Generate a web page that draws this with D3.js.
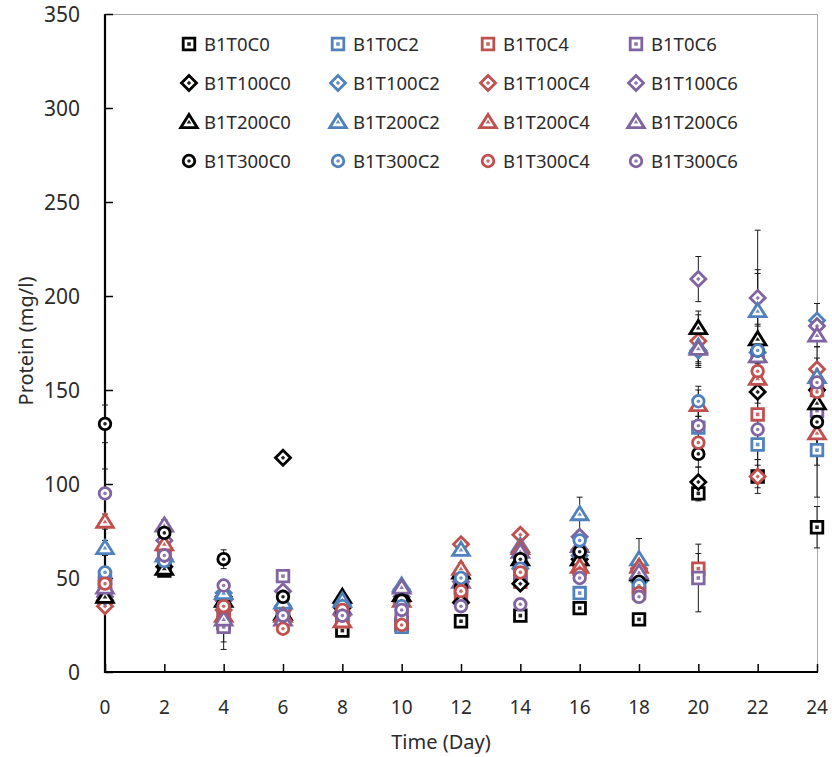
<!DOCTYPE html>
<html>
<head>
<meta charset="utf-8">
<script src="https://cdn.jsdelivr.net/npm/d3@7"></script>
<style>
body { margin: 0; background: #fff; }
text { font-family: "Noto Sans", "DejaVu Sans", sans-serif; fill: #2b2b2b; }
</style>
</head>
<body>
<svg id="chart" width="832" height="757"></svg>
<script>
// sampling days
var days = [0, 2, 4, 6, 8, 10, 12, 14, 16, 18, 20, 22, 24];
var yTicks = [0, 50, 100, 150, 200, 250, 300, 350];

// protein (mg/l), one array per treatment
var B1T0C0   = [40, 54, 26, 30, 22, 25, 27, 30, 34, 28, 95, 104, 77];
var B1T0C2   = [50, 58, 30, 33, 30, 24, 45, 50, 42, 45, 130, 121, 118];
var B1T0C4   = [45, 60, 28, 32, 27, 26, 40, 48, 55, 42, 55, 137, 150];
var B1T0C6   = [47, 60, 24, 51, 30, 30, 45, 52, 60, 43, 50, 168, 139];
var B1T100C0 = [38, 56, 40, 114, 34, 38, 37, 47, 60, 50, 101, 149, 150];
var B1T100C2 = [37, 60, 42, 35, 36, 44, 50, 55, 62, 48, 171, 170, 187];
var B1T100C4 = [35, 65, 33, 33, 30, 37, 68, 73, 65, 55, 176, 104, 161];
var B1T100C6 = [40, 70, 38, 43, 36, 40, 48, 57, 72, 54, 209, 199, 184];
var B1T200C0 = [40, 55, 38, 31, 40, 41, 53, 60, 60, 52, 183, 177, 143];
var B1T200C2 = [66, 62, 42, 37, 38, 46, 65, 67, 84, 60, 173, 192, 157];
var B1T200C4 = [80, 68, 30, 30, 27, 38, 55, 66, 56, 56, 142, 156, 127];
var B1T200C6 = [45, 78, 28, 28, 34, 45, 48, 64, 67, 53, 172, 168, 179];
var B1T300C0 = [132, 74, 60, 40, 32, 38, 45, 60, 64, 48, 116, 171, 133];
var B1T300C2 = [53, 59, 35, 30, 35, 35, 50, 55, 70, 46, 144, 171, 153];
var B1T300C4 = [47, 62, 35, 23, 33, 25, 43, 53, 52, 42, 122, 160, 149];
var B1T300C6 = [95, 62, 46, 30, 30, 33, 35, 36, 50, 40, 131, 129, 154];

// standard deviations
var errT0C0   = [3, 2, 10, 3, 2, 2, 2, 2, 2, 2, 4, 9, 11];
var errT0C2   = [3, 3, 3, 3, 2, 2, 3, 3, 3, 3, 6, 8, 8];
var errT0C4   = [3, 3, 3, 3, 2, 2, 3, 3, 3, 3, 8, 10, 6];
var errT0C6   = [3, 3, 12, 3, 2, 2, 3, 3, 3, 3, 18, 9, 6];
var errT100C0 = [3, 3, 4, 3, 2, 2, 3, 3, 3, 3, 8, 6, 8];
var errT100C2 = [3, 3, 3, 3, 2, 2, 3, 3, 3, 3, 8, 8, 9];
var errT100C4 = [3, 3, 3, 3, 2, 2, 3, 3, 3, 3, 14, 6, 6];
var errT100C6 = [3, 3, 3, 3, 2, 2, 3, 3, 3, 3, 12, 15, 6];
var errT200C0 = [3, 3, 4, 3, 2, 2, 3, 3, 3, 3, 9, 8, 8];
var errT200C2 = [4, 3, 3, 3, 2, 2, 3, 3, 9, 11, 8, 20, 6];
var errT200C4 = [4, 3, 3, 3, 2, 2, 3, 3, 3, 3, 8, 8, 6];
var errT200C6 = [3, 3, 3, 3, 2, 2, 3, 3, 3, 3, 8, 8, 6];
var errT300C0 = [10, 4, 5, 3, 2, 2, 3, 3, 3, 3, 7, 64, 40];
var errT300C2 = [3, 3, 3, 3, 2, 2, 3, 3, 3, 3, 8, 8, 6];
var errT300C4 = [3, 3, 3, 3, 2, 2, 3, 3, 3, 3, 8, 8, 6];
var errT300C6 = [13, 3, 3, 3, 2, 2, 3, 3, 3, 3, 8, 8, 6];

var names = ["B1T0C0", "B1T0C2", "B1T0C4", "B1T0C6",
             "B1T100C0", "B1T100C2", "B1T100C4", "B1T100C6",
             "B1T200C0", "B1T200C2", "B1T200C4", "B1T200C6",
             "B1T300C0", "B1T300C2", "B1T300C4", "B1T300C6"];
var values = [B1T0C0, B1T0C2, B1T0C4, B1T0C6, B1T100C0, B1T100C2, B1T100C4, B1T100C6,
              B1T200C0, B1T200C2, B1T200C4, B1T200C6, B1T300C0, B1T300C2, B1T300C4, B1T300C6];
var errors = [errT0C0, errT0C2, errT0C4, errT0C6, errT100C0, errT100C2, errT100C4, errT100C6,
              errT200C0, errT200C2, errT200C4, errT200C6, errT300C0, errT300C2, errT300C4, errT300C6];

var colors = ["#000000", "#4F81BD", "#C0504D", "#8064A2"];
var shapes = ["square", "diamond", "triangle", "circle"];

var series = names.map(function (n, i) {
    return {
        name: n,
        shape: shapes[Math.floor(i / 4)],
        color: colors[i % 4],
        points: days.map(function (d, j) { return { day: d, v: values[i][j], e: errors[i][j] }; })
    };
});

var svg = d3.select("#chart");
var plotLeft = 105, plotRight = 817, plotTop = 14, plotBottom = 672;

var x = d3.scaleLinear().domain([0, 24]).range([plotLeft, plotRight]);
var y = d3.scaleLinear().domain([0, 350]).range([plotBottom, plotTop]);

// plot border (top and right, light gray)
svg.append("path")
    .attr("d", "M" + plotLeft + "," + (plotTop + 0.5) + "H" + (plotRight + 0.5) + "V" + plotBottom)
    .attr("fill", "none").attr("stroke", "#a6a6a6").attr("stroke-width", 1);

// axes, ticks inside
var yAxis = svg.append("g").attr("transform", "translate(" + plotLeft + ",0)")
    .call(d3.axisRight(y).tickValues(yTicks).tickSize(8).tickFormat(""));
var xAxis = svg.append("g").attr("transform", "translate(0," + plotBottom + ")")
    .call(d3.axisTop(x).tickValues(days).tickSize(8).tickFormat(""));
[yAxis, xAxis].forEach(function (a) {
    a.select(".domain").remove();
    a.selectAll(".tick line").attr("stroke", "#000").attr("stroke-width", 1.5);
});
svg.append("line").attr("x1", plotLeft).attr("x2", plotLeft).attr("y1", plotTop).attr("y2", plotBottom + 1)
    .attr("stroke", "#000").attr("stroke-width", 2.2);
svg.append("line").attr("x1", plotLeft - 1).attr("x2", plotRight + 1).attr("y1", plotBottom).attr("y2", plotBottom)
    .attr("stroke", "#000").attr("stroke-width", 2.2);

svg.append("g").selectAll("text").data(yTicks).enter().append("text")
    .attr("x", 80).attr("y", function (d) { return y(d); })
    .attr("dy", "0.36em").attr("text-anchor", "end")
    .style("font-size", "21px").text(function (d) { return d; });
svg.append("g").selectAll("text").data(days).enter().append("text")
    .attr("x", function (d) { return x(d); }).attr("y", 707)
    .attr("dy", "0.36em").attr("text-anchor", "middle")
    .style("font-size", "19px").text(function (d) { return d; });

svg.append("text")
    .attr("transform", "translate(26,341) rotate(-90)")
    .attr("text-anchor", "middle").attr("dy", "0.36em")
    .style("font-size", "20px").text("Protein (mg/l)");
svg.append("text")
    .attr("x", 441).attr("y", 742).attr("dy", "0.36em")
    .attr("text-anchor", "middle")
    .style("font-size", "20px").text("Time (Day)");

function shapePath(shape, s) {
    if (shape === "square") return "M" + (-s) + "," + (-s) + "H" + s + "V" + s + "H" + (-s) + "Z";
    if (shape === "diamond") { var d = s * 1.25; return "M0," + (-d) + "L" + d + ",0L0," + d + "L" + (-d) + ",0Z"; }
    if (shape === "triangle") { var h = s * 1.35; return "M0," + (-h) + "L" + (h * 1.1) + "," + (h * 0.75) + "L" + (-h * 1.1) + "," + (h * 0.75) + "Z"; }
    return "M" + s + ",0A" + s + "," + s + " 0 1,1 " + (-s) + ",0A" + s + "," + s + " 0 1,1 " + s + ",0Z";
}

function drawMarker(g, sr) {
    var big = { square: 5.8, diamond: 6.0, triangle: 5.6, circle: 5.8 }[sr.shape];
    g.append("path").attr("d", shapePath(sr.shape, big))
        .attr("fill", "#fff").attr("stroke", sr.color).attr("stroke-width", 2.8);
    g.append("path").attr("d", shapePath(sr.shape, sr.shape === "triangle" ? 1.6 : 1.8))
        .attr("fill", sr.color).attr("opacity", 0.85);
}

// error bars
var eb = svg.append("g");
series.forEach(function (sr) {
    sr.points.forEach(function (p) {
        var cx = x(p.day), y1 = y(p.v + p.e), y2 = y(Math.max(0, p.v - p.e));
        eb.append("line").attr("x1", cx).attr("x2", cx).attr("y1", y1).attr("y2", y2)
            .attr("stroke", "#1a1a1a").attr("stroke-width", 1);
        [y1, y2].forEach(function (yy) {
            eb.append("line").attr("x1", cx - 3).attr("x2", cx + 3).attr("y1", yy).attr("y2", yy)
                .attr("stroke", "#1a1a1a").attr("stroke-width", 1);
        });
    });
});

// markers
series.forEach(function (sr) {
    svg.append("g").selectAll("g").data(sr.points).enter().append("g")
        .attr("transform", function (p) { return "translate(" + x(p.day) + "," + y(p.v) + ")"; })
        .each(function () { drawMarker(d3.select(this), sr); });
});

// legend, 4 columns
var legCols = [189, 338, 488, 636], legRows = [44, 83, 122, 161];
series.forEach(function (sr, i) {
    var lx = legCols[i % 4], ly = legRows[Math.floor(i / 4)];
    var g = svg.append("g").attr("transform", "translate(" + lx + "," + ly + ")");
    drawMarker(g, sr);
    g.append("text").attr("x", 15).attr("dy", "0.36em")
        .style("font-size", "18.5px").text(sr.name);
});
</script>
</body>
</html>
